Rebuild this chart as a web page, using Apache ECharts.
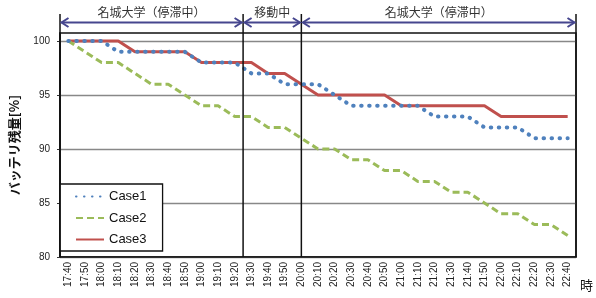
<!DOCTYPE html>
<html lang="ja">
<head>
	<meta charset="UTF-8">
	<title></title>
	<script src="https://cdn.jsdelivr.net/npm/echarts@6/dist/echarts.min.js"></script>
	<style>
		body{ margin:0; background:#fff; }
	</style>
</head>
<body>
	<div id="main" style="width:596px;height:298px;"></div>
<script type="text/javascript">
var times = ['17:40','17:50','18:00','18:10','18:20','18:30','18:40','18:50','19:00','19:10','19:20',
	'19:30','19:40','19:50','20:00','20:10','20:20','20:30','20:40','20:50','21:00',
	'21:10','21:20','21:30','21:40','21:50','22:00','22:10','22:20','22:30','22:40'];
var case1 = [100,100,100,99,99,99,99,99,98,98,98,97,97,96,96,96,95,94,94,94,94,94,93,93,93,92,92,92,91,91,91];
var case2 = [100,99,98,98,97,96,96,95,94,94,93,93,92,92,91,90,90,89,89,88,88,87,87,86,86,85,84,84,83,83,82];
var case3 = [100,100,100,100,99,99,99,99,98,98,98,98,97,97,96,95,95,95,95,95,94,94,94,94,94,94,93,93,93,93,93];
var yTicks = [80,85,90,95,100];
// 区間 (カテゴリ番号で指定, 0.5 = 境界)
var spanNames = ['名城大学（停滞中）','移動中','名城大学（停滞中）'];
var spanEdges = [-0.5, 10.5, 14, 30.5];

var yMax = 100.74;
var jp = "'Noto Sans CJK JP', sans-serif";

var mychart = echarts.init(document.getElementById('main'));

option = {
	animation: false,
	grid: { left: 53, right: 19, top: 33, bottom: 41, show: true, borderColor: '#111', borderWidth: 1.5 },
	legend: {
		orient: 'vertical',
		left: 60, top: 184,
		data: ['Case1','Case2','Case3'],
		itemWidth: 28, itemHeight: 14, itemGap: 8.5,
		padding: [6, 16, 5, 15],
		backgroundColor: '#fff',
		borderColor: '#111', borderWidth: 1.3,
		itemStyle: { opacity: 0 },
		textStyle: { fontSize: 13, color: '#111', fontFamily: 'Liberation Sans' }
	},
	xAxis: {
		type: 'category',
		data: times,
		boundaryGap: true,
		name: '時',
		nameLocation: 'end',
		nameGap: 4,
		nameTextStyle: { fontSize: 13, color: '#111', fontFamily: jp, verticalAlign: 'top', padding: [22,0,0,0] },
		axisLine: { lineStyle: { color: '#111', width: 1.5 } },
		axisTick: { interval: 0, length: 4, lineStyle: { color: '#333' } },
		axisLabel: { interval: 0, rotate: 90, fontSize: 10, color: '#222', margin: 5, fontFamily: 'Liberation Sans' }
	},
	yAxis: {
		type: 'value',
		min: 80, max: yMax, interval: 5,
		name: 'バッテリ残量[%]',
		nameLocation: 'middle',
		nameGap: 39,
		nameTextStyle: { fontSize: 13, color: '#111', fontFamily: jp, fontWeight: 'bold' },
		axisLine: { show: true, lineStyle: { color: '#111', width: 1.5 } },
		axisTick: { show: true, length: 3, customValues: yTicks, lineStyle: { color: '#333' } },
		axisLabel: { customValues: yTicks, fontSize: 10, color: '#222', margin: 10, fontFamily: 'Liberation Sans' },
		splitLine: { lineStyle: { color: '#888', width: 1.3 } }
	},
	series: [
		{
			name: 'Case3', type: 'line', data: case3, symbol: 'none',
			lineStyle: { color: '#c0504d', width: 3 }, itemStyle: { color: '#c0504d' }
		},
		{
			name: 'Case2', type: 'line', data: case2, symbol: 'none',
			lineStyle: { color: '#9bbb59', width: 3, type: [7, 4] }, itemStyle: { color: '#9bbb59' }
		},
		{
			name: 'Case1', type: 'line', data: case1, symbol: 'none',
			lineStyle: { color: '#4f81bd', width: 4, type: [0.5, 7.5], cap: 'round' }, itemStyle: { color: '#4f81bd' }
		}
	]
};
mychart.setOption(option);

// 上部の区間矢印と区切り線
var x0 = mychart.convertToPixel({ xAxisIndex: 0 }, 0);
var band = mychart.convertToPixel({ xAxisIndex: 0 }, 1) - x0;
var px = function (v) { return x0 + v * band; };
var yBottom = mychart.convertToPixel({ yAxisIndex: 0 }, 80);
var yTop = mychart.convertToPixel({ yAxisIndex: 0 }, yMax);
var ay = yTop - 10.5;
var arrowColor = '#46468e';
var g = [];

spanEdges.forEach(function (e) {
	g.push({ type: 'line', z: 100, shape: { x1: px(e), y1: yTop - 19, x2: px(e), y2: yBottom }, style: { stroke: '#111', lineWidth: 1.5 } });
});
for (var i = 0; i < spanNames.length; i++) {
	var a = px(spanEdges[i]) + 1.5, b = px(spanEdges[i + 1]) - 1.5;
	g.push({ type: 'line', z: 100, shape: { x1: a, y1: ay, x2: b, y2: ay }, style: { stroke: arrowColor, lineWidth: 2 } });
	g.push({ type: 'polyline', z: 100, shape: { points: [[a + 7, ay - 4.5], [a, ay], [a + 7, ay + 4.5]] }, style: { stroke: arrowColor, lineWidth: 2, fill: null } });
	g.push({ type: 'polyline', z: 100, shape: { points: [[b - 7, ay - 4.5], [b, ay], [b - 7, ay + 4.5]] }, style: { stroke: arrowColor, lineWidth: 2, fill: null } });
	g.push({ type: 'text', z: 100, x: (a + b) / 2, y: 12.5, style: { text: spanNames[i], fill: '#333', font: '12px ' + jp, textAlign: 'center', textVerticalAlign: 'middle' } });
}
mychart.setOption({ graphic: g });
</script>
</body>
</html>
